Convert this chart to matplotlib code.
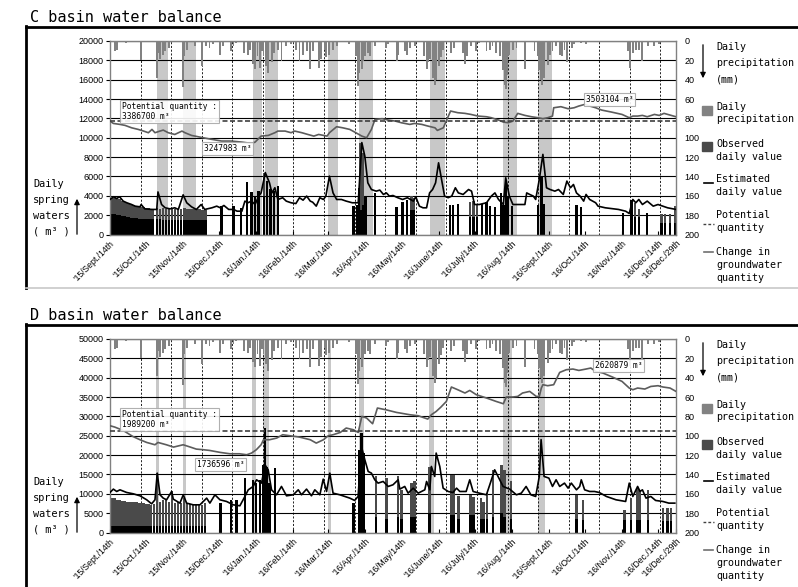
import numpy as np
import pandas as pd
import matplotlib
matplotlib.use('Agg')
import matplotlib.pyplot as plt
from matplotlib.lines import Line2D
from matplotlib.patches import Rectangle, FancyArrowPatch

# x axis: days since 2015-09-14
start = pd.Timestamp('2015-09-14')
n_days = 472
tick_dates = ['2015-09-14', '2015-10-14', '2015-11-14', '2015-12-14', '2016-01-14',
              '2016-02-14', '2016-03-14', '2016-04-14', '2016-05-14', '2016-06-14',
              '2016-07-14', '2016-08-14', '2016-09-14', '2016-10-14', '2016-11-14',
              '2016-12-14', '2016-12-29']
tick_labels = ["'15/Sept./14th", "'15/Oct./14th", "'15/Nov./14th", "'15/Dec./14th",
               "'16/Jan./14th", "'16/Feb./14th", "'16/Mar./14th", "'16/Apr./14th",
               "'16/May/14th", "'16/June/14th", "'16/July/14th", "'16/Aug./14th",
               "'16/Sept./14th", "'16/Oct./14th", "'16/Nov./14th", "'16/Dec./14th",
               "'16/Dec./29th"]
tick_days = (pd.to_datetime(tick_dates) - start).days

# daily precipitation (mm) - same gauge on both panels
rain_day = [4, 6, 13, 26, 39, 41, 42, 44, 46, 49,
            61, 62, 64, 71, 77, 80, 83, 86, 92, 94,
            101, 103, 105, 112, 115, 117, 119, 121, 123, 125,
            127, 128, 130, 132, 135, 137, 140, 143, 147, 151,
            155, 158, 161, 164, 167, 169, 174, 176, 179, 180,
            183, 186, 189, 199, 205, 207, 208, 210, 211, 213,
            215, 217, 221, 230, 232, 239, 240, 246, 248, 250,
            254, 262, 264, 265, 267, 269, 271, 272, 274, 276,
            278, 284, 287, 294, 296, 298, 301, 305, 308, 314,
            317, 319, 322, 325, 328, 329, 330, 331, 333, 336,
            339, 346, 354, 357, 358, 359, 360, 362, 365, 367,
            369, 372, 375, 377, 379, 381, 385, 387, 393, 397,
            432, 434, 436, 439, 441, 444, 449, 454, 458]
rain_mm = [10, 9, 2.5, 20, 38, 12, 19, 14, 10, 7,
           48, 16, 9, 5, 26, 5, 7, 3.5, 14, 5,
           10, 5, 2.5, 12, 14, 9, 24, 29, 16, 28,
           10, 16, 26, 33, 22, 12, 9, 21, 5, 3.5,
           9, 21, 14, 10, 29, 10, 28, 19, 9, 17,
           14, 9, 5, 3.5, 15.5, 46, 33, 29, 21, 15.5,
           12, 15.5, 5, 7, 3.5, 21, 14, 10, 14, 7,
           5, 15.5, 29, 22, 19, 38, 45, 40, 26, 17,
           9, 12, 7, 12, 24, 16, 5, 10, 2, 10,
           9, 5, 12, 15.5, 30, 45, 50, 35, 14, 9,
           7, 29, 10, 15.5, 30, 40, 45, 38, 25, 14,
           10, 5, 14, 15.5, 9, 22, 7, 3.5, 2, 3.5,
           10, 28, 12, 9, 9, 21, 5, 5, 3.5]

# ---------------- C basin ----------------
c_band_start = [39, 61, 119, 129, 181.5, 208, 266.5, 328, 357]
c_band_end = [48.5, 71.5, 127, 140, 190, 219.5, 279, 339.5, 368.5]
c_potential = 11700

c_est_day = [0, 3, 5.5, 8, 11, 14, 18, 21, 25, 26,
             29, 35, 39, 40, 43, 46, 50, 54, 57, 61,
             64, 68, 72, 76, 79, 85, 89, 92, 95, 99,
             103, 106, 110, 112.5, 115, 118, 121, 124, 126, 129.5,
             133, 135, 137.5, 140, 144, 147, 151, 155, 158, 161,
             164, 167, 169, 172, 175, 178, 180, 183, 186, 189,
             193, 197, 202, 207, 210, 212.5, 215, 218, 222, 225,
             228, 230.5, 233, 236, 240, 244, 248, 253, 255, 258,
             261, 264, 266.5, 269, 271.5, 274, 276, 279, 282, 285,
             288, 290.5, 294.5, 299, 301.5, 304, 308, 314, 318, 321,
             324, 328, 330, 333, 336, 340, 346, 347.5, 350, 353,
             355, 358, 361, 364, 367, 371, 374, 378, 381, 384,
             386.5, 389, 392, 395, 397, 400, 405, 407, 413, 424,
             430, 433, 436, 438.5, 441, 444, 448, 453, 457, 461,
             465, 472]
c_est = [3620, 3900, 3720, 3900, 3450, 3280, 3100, 2930, 2860, 3100,
         2650, 2590, 2590, 4400, 3100, 2760, 2650, 2760, 2590, 4100,
         3280, 2860, 2590, 3100, 2590, 2760, 2930, 2760, 3000, 2590,
         2590, 2410, 2410, 3450, 3280, 3450, 3100, 3970, 4300, 6400,
         5340, 4300, 4830, 3620, 3800, 3450, 3280, 3200, 3800, 3550,
         3970, 3450, 3340, 2930, 3800, 3620, 3970, 6030, 4300, 3620,
         3620, 3450, 3280, 3280, 9500, 8100, 5340, 4650, 4480, 4590,
         4140, 4300, 3970, 4030, 3800, 3620, 3800, 3450, 3900, 2930,
         2760, 2760, 4300, 4650, 5340, 7410, 6030, 3970, 3800, 3970,
         4830, 4300, 4140, 4650, 4480, 3100, 3100, 3280, 3970, 4300,
         3620, 3100, 5860, 3970, 3100, 3100, 3100, 4300, 4140, 3970,
         3620, 5690, 8280, 4830, 4650, 4480, 4650, 4140, 5520, 4830,
         5170, 4300, 3970, 3450, 4140, 3620, 3280, 2930, 2760, 2590,
         2410, 2170, 3620, 3280, 3620, 3100, 3450, 2930, 3100, 2930,
         2760, 2590]

c_gw_day = [0, 2.8, 8.3, 12.5, 18, 23.6, 28, 32, 35, 37.5,
            41.7, 44.4, 48.6, 54, 60, 62.5, 68, 73.6, 79, 85,
            93, 101, 110, 118, 121, 126, 132, 137.5, 140, 146,
            151, 154, 160, 165, 170, 174, 181, 183, 189, 194,
            200, 205, 210, 214, 218, 221, 227, 232, 238, 243,
            250, 254, 260, 265, 271, 273, 278, 280, 284, 290,
            296, 301, 307, 314, 318, 324, 328, 332, 336, 340,
            346, 351.5, 357, 361, 365, 369, 370, 376, 382, 387,
            391, 396, 400, 405, 410, 418, 427, 433, 436, 440,
            444, 448, 454, 458, 462, 468, 472]
c_gw = [11720, 11480, 11380, 11280, 11030, 10860, 10690, 10520, 10860, 10520,
        10690, 10790, 10520, 10340, 10690, 10520, 10240, 10100, 9970, 9830,
        9660, 9660, 9550, 9410, 9550, 10170, 10240, 10520, 10690, 10690,
        10520, 10690, 10520, 10340, 10170, 10340, 10170, 10520, 11140, 11030,
        10860, 10520, 10170, 10000, 10860, 11900, 11970, 11830, 11720, 11550,
        11380, 11480, 11380, 11210, 11030, 10760, 11030, 11620, 12760, 12590,
        12520, 12410, 12240, 12170, 12070, 11830, 11620, 11550, 11720, 12520,
        12310, 12170, 12070, 11970, 12070, 12240, 13100, 13210, 13000, 13100,
        13280, 13450, 13280, 13100, 12860, 12660, 12410, 12070, 12240, 12240,
        12310, 12170, 12410, 12310, 12520, 12310, 12170]

c_obs_day = [0, 2, 4, 6, 8, 10, 12, 14, 16, 18,
             20, 22, 24, 26, 28, 30, 32, 34, 36, 39,
             41.5, 44, 46.5, 49, 51.5, 54, 56.5, 59, 62, 64.5,
             67, 69.5, 72, 74.5, 77, 79.5, 93, 103, 109, 114,
             118, 121, 124, 128.5, 131, 134, 137, 140, 203, 206,
             207.5, 209, 211, 213, 221, 239, 244, 247.5, 251.5, 253.5,
             283.5, 286, 290, 300, 303, 306, 310, 314, 317, 321,
             326, 328, 330, 332, 335, 357, 360, 362, 389, 393,
             428, 435, 438, 441, 448, 460, 463, 467, 471]
c_obs = [3600, 3750, 3800, 3750, 3650, 3500, 3400, 3300, 3200, 3100,
         3000, 2950, 2900, 2850, 2800, 2750, 2700, 2650, 2650, 2700,
         2650, 2700, 2650, 2700, 2650, 2600, 2600, 2650, 2700, 2650,
         2600, 2600, 2600, 2600, 2550, 2550, 2900, 2900, 2700, 5400,
         4400, 4000, 4500, 6400, 5500, 4700, 4500, 5000, 2900, 3000,
         4800, 9500, 8400, 4000, 4300, 2800, 3400, 3600, 4000, 3800,
         3100, 3100, 3200, 3400, 3500, 3200, 3200, 3400, 2900, 2800,
         4300, 3100, 5300, 3900, 2900, 3100, 6000, 3200, 3100, 2800,
         2200, 3600, 3300, 2600, 2200, 2100, 2100, 2100, 2900]
c_obs_black = [2200, 2150, 2100, 2050, 2000, 1950, 1900, 1850, 1800, 1750,
               1700, 1700, 1650, 1650, 1600, 1600, 1600, 1600, 1600, 1600,
               1600, 1550, 1550, 1550, 1550, 1550, 1550, 1550, 1550, 1550,
               1550, 1550, 1550, 1550, 1550, 1550, 2900, 2900, 2700, 5400,
               4400, 4000, 4500, 4000, 5500, 4700, 4500, 5000, 2900, 3000,
               4800, 2500, 3000, 4000, 4300, 2800, 3400, 3600, 2500, 2500,
               3100, 3100, 3200, 1800, 1800, 1800, 3200, 3400, 2900, 2800,
               4300, 3100, 5300, 3900, 2900, 3100, 6000, 3200, 3100, 2800,
               2200, 3600, 1800, 1800, 2200, 1200, 1200, 1200, 1200]

# ---------------- D basin ----------------
d_band_start = [38.5, 61, 118, 127.5, 181.5, 208, 266, 327.5, 357]
d_band_end = [41, 63.5, 121.5, 132.5, 184, 211.5, 270, 335, 363]
d_potential = 26200

d_est_day = [0, 2.8, 5.6, 8.3, 13.9, 19.4, 25, 30.6, 34.7, 37.5,
             39.4, 41.7, 44.4, 47.2, 51.4, 52.8, 58.3, 61.1, 63.9, 69.4,
             75, 80.6, 83.3, 87.5, 91.7, 97.2, 102.8, 108.3, 112.5, 115.3,
             119.4, 122.2, 126.4, 129.2, 131.9, 134.7, 138.9, 143, 147.2, 152.8,
             157, 159.7, 163.9, 168, 170.8, 175, 177.8, 180.6, 183.3, 186,
             191.7, 200, 204, 206.9, 209.7, 212.5, 215.3, 218, 220.8, 223.6,
             227.8, 232, 236, 240.3, 241.7, 245.8, 248.6, 252.8, 257, 262.5,
             264, 266.7, 268, 270.8, 272, 275, 277.8, 282, 286, 289,
             291.7, 297, 300, 302.8, 308, 313.9, 316.7, 320.8, 323.6, 327.8,
             333.3, 338.9, 343, 347, 351, 355, 358, 359.5, 362, 366,
             369, 372, 375, 379, 382, 384.7, 389, 391.7, 393, 395.8,
             400, 404, 408, 414, 422, 430, 433, 436, 440, 442,
             444, 447, 451, 455, 461, 466, 471]
d_est = [10340, 11210, 10600, 11030, 10340, 10000, 9480, 8450, 7410, 8450,
         15340, 9740, 8880, 8450, 10600, 8620, 7590, 9740, 7590, 7150,
         7150, 8880, 7590, 9740, 8450, 8020, 7150, 6900, 9310, 11030,
         11900, 13620, 12760, 17500, 16200, 11030, 9740, 11900, 9480, 9740,
         11030, 9740, 11210, 9480, 11030, 9740, 13790, 10600, 15340, 10170,
         9740, 8880, 8280, 9310, 22240, 18790, 15770, 15340, 13620, 12760,
         13190, 11900, 12330, 13620, 11210, 11900, 10170, 11460, 10170, 11030,
         13190, 11030, 17070, 14480, 20520, 17070, 11460, 10600, 10340, 11460,
         10600, 10600, 13620, 10600, 10170, 9740, 12330, 16200, 14480, 11900,
         11210, 9740, 10170, 11900, 9740, 9310, 14480, 24000, 14480, 14050,
         11900, 13620, 11900, 12760, 11460, 12760, 11030, 11900, 13620, 11030,
         10600, 10600, 10340, 9310, 8450, 8020, 12760, 9310, 11900, 10600,
         11030, 8880, 9310, 8280, 8020, 7590, 7590]

d_gw_day = [0, 4, 11, 19, 25, 30.6, 37.5, 40, 47, 53,
            61, 67, 72, 78, 83, 92, 100, 108, 114, 118,
            122, 126, 128, 133, 139, 144, 150, 158, 167, 172,
            178, 182, 186, 192, 197, 203, 207, 210, 214, 219,
            223, 230, 239, 242, 250, 257, 265, 268, 272, 276,
            280.5, 284.7, 290, 296, 300, 305.5, 314, 322, 328, 330.5,
            336, 340, 344, 350, 355.5, 358, 359.7, 361, 365, 370,
            375, 380.5, 386, 391, 397, 401, 405, 411, 419, 427,
            433, 436, 440, 446, 451, 457, 461, 467, 472]
d_gw = [27590, 27240, 26370, 24820, 23970, 23270, 22670, 23270, 22670, 22070,
        22670, 22070, 21550, 21380, 21210, 20690, 20340, 20340, 20090, 20520,
        21380, 22670, 23970, 23970, 24400, 25260, 25000, 24660, 23970, 23100,
        23970, 25000, 25260, 25850, 26990, 26550, 25850, 29990, 29570, 28100,
        32160, 31720, 31020, 30870, 30430, 30170, 29310, 30430, 31280, 32420,
        33870, 37590, 36890, 36040, 36710, 35600, 34750, 33870, 33270, 35010,
        35010, 35160, 36040, 36460, 35160, 35160, 37330, 38190, 37930, 38190,
        41360, 42060, 42240, 41880, 42240, 42500, 41620, 41210, 40170, 39040,
        37330, 36890, 37330, 37070, 37740, 37930, 37600, 37330, 36460]

d_obs_day = [0, 2, 4, 6, 8, 10, 12, 14, 16, 18,
             20, 22, 24, 26, 28, 30, 32, 34, 36.5, 39,
             41.5, 44, 46.5, 49, 51.5, 54, 56.5, 59, 61.5, 64,
             66.5, 69, 71.5, 74, 76.5, 79, 92, 101, 105.5, 112.5,
             119.5, 122, 125, 128, 129.5, 131, 133, 137.5, 203, 208,
             209.7, 211.5, 222, 230.5, 240, 243, 251.5, 254, 266.5, 284.5,
             286.5, 290.5, 300.5, 303, 309.5, 311.5, 314.5, 319.5, 326.5, 329,
             334.5, 389, 394.5, 429, 434.5, 440, 442, 448.5, 461, 465,
             468]
d_obs = [8400, 8800, 8800, 8500, 8300, 8200, 8100, 8000, 8000, 7900,
         7850, 7800, 7700, 7600, 7550, 7450, 7400, 7000, 7400, 15300,
         8000, 8500, 8700, 8000, 10600, 7500, 7800, 7500, 9000, 7600,
         7300, 7400, 7200, 7000, 7200, 7500, 7600, 8450, 8400, 14000,
         13600, 12800, 13600, 17500, 27000, 17000, 12800, 16600, 7600, 21400,
         25800, 20500, 14500, 14000, 14500, 11000, 12800, 13200, 17000, 14900,
         14900, 9500, 9700, 9300, 8900, 8000, 10200, 16200, 17500, 16200,
         13200, 9700, 8450, 5900, 8900, 11500, 11000, 11000, 6300, 6300,
         6300]
d_obs_black = [1800, 1800, 1800, 1800, 1800, 1800, 1800, 1800, 1800, 1800,
               1800, 1800, 1750, 1750, 1750, 1750, 1750, 1750, 1750, 1750,
               1750, 1750, 1750, 1750, 1750, 1750, 1750, 1750, 1750, 1750,
               1750, 1750, 1750, 1750, 1750, 1750, 7600, 8450, 8400, 14000,
               13600, 12800, 13600, 17500, 27000, 17000, 12800, 16600, 7600, 21400,
               25800, 20500, 4000, 3500, 4000, 3500, 4000, 4000, 5000, 4500,
               4500, 3500, 4500, 4500, 3500, 3500, 3500, 4000, 5000, 4000,
               3500, 3500, 3300, 3300, 3300, 3300, 3300, 3300, 3000, 3000,
               3000]

# ---------------- drawing ----------------
W, H = 798, 587
fig = plt.figure(figsize=(W / 100, H / 100), dpi=100)
MONO = 'DejaVu Sans Mono'
SANS = 'Liberation Sans'
grid_step = 25.5  # dashed vertical grid spacing (days)


def fx(px):
    return px / W


def fy(py):
    return 1 - py / H


def fline(x0, y0, x1, y1, **kw):
    fig.add_artist(Line2D([fx(x0), fx(x1)], [fy(y0), fy(y1)],
                          transform=fig.transFigure, **kw))


def lines_text(px, py, rows, pitch, size=7.2):
    for i, r in enumerate(rows):
        fig.text(fx(px), fy(py + i * pitch), r, family=MONO, fontsize=size,
                 va='baseline', ha='left')


def arrow(x, y0, y1):
    fig.add_artist(FancyArrowPatch((fx(x), fy(y0)), (fx(x), fy(y1)),
                                   transform=fig.transFigure, arrowstyle='-|>',
                                   mutation_scale=8, lw=0.9, color='black'))


def box(px, py, txt):
    fig.text(fx(px), fy(py), txt, family=MONO, fontsize=5.7, va='top', ha='left',
             linespacing=1.15,
             bbox=dict(boxstyle='square,pad=0.25', fc='white', ec='#a8a8a8',
                       lw=0.8, alpha=0.9))


def panel(top, title, ymax, ystep, bs, be, obs_d, obs_v, obs_k,
          est_d, est_v, gw_d, gw_v, pot):
    # outer frame + title
    fline(26, top - 14, 798, top - 14, color='black', lw=2.0)
    fline(26, top - 15, 26, top + 247, color='black', lw=2.0)
    fig.text(fx(30), fy(top - 19), title, family=MONO, fontsize=11, va='baseline')

    ax = fig.add_axes([fx(110), fy(top + 193.5), 566 / W, 193.5 / H])
    ax.set_xlim(0, n_days)
    ax.set_ylim(0, ymax)
    for s, e in zip(bs, be):
        ax.axvspan(s, e, color='#c8c8c8', lw=0, zorder=0)
    ax.set_yticks(np.arange(0, ymax + 1, ystep))
    ax.yaxis.grid(True, color='black', lw=0.8)
    for g in np.arange(grid_step, n_days, grid_step):
        ax.axvline(g, color='black', lw=0.6, ls=(0, (2.5, 2)), zorder=1)

    ax.bar(obs_d, obs_v, width=2, color='#4a4a4a', lw=0, zorder=2)
    ax.bar(obs_d, obs_k, width=2, color='black', lw=0, zorder=2)
    ax.plot(gw_d, gw_v, color='#5c5c5c', lw=1.2, zorder=3)
    ax.axhline(pot, color='#404040', lw=1.2, ls=(0, (3, 1.5)), zorder=3)
    ax.plot(est_d, est_v, color='black', lw=1.2, zorder=4)

    ax.set_xticks(tick_days)
    ax.set_xticklabels(tick_labels, rotation=45, ha='right', va='top',
                       rotation_mode='anchor', fontsize=6.2, family=SANS)
    ax.tick_params(axis='x', direction='in', length=3, pad=3)
    ax.tick_params(axis='y', direction='out', length=3, pad=1.5, labelsize=6.5,
                   colors='black')
    for lab in ax.get_yticklabels():
        lab.set_family(SANS)
    for sp in ax.spines.values():
        sp.set_color('#808080')
        sp.set_linewidth(1.0)

    ax2 = ax.twinx()
    ax2.set_ylim(200, 0)
    ax2.set_yticks(np.arange(0, 201, 20))
    ax2.bar(rain_day, rain_mm, width=1.6, color='#828282', lw=0)
    ax2.tick_params(axis='y', length=0, pad=6, labelsize=6.5)
    for lab in ax2.get_yticklabels():
        lab.set_family(SANS)
    for sp in ax2.spines.values():
        sp.set_visible(False)

    t = top
    # left axis caption
    lines_text(33, t + 146, ['Daily', 'spring', 'waters', '( m³ )'], 16, 7.4)
    arrow(77, t + 196, t + 155)
    # right axis caption
    lines_text(716, t + 9, ['Daily', 'precipitation', '(mm)'], 16)
    arrow(703, t + 1, t + 40)
    # legend
    fig.add_artist(Rectangle((fx(702), fy(t + 74)), 10 / W, 9 / H,
                             transform=fig.transFigure, color='#828282'))
    lines_text(716, t + 69, ['Daily', 'precipitation'], 12)
    fig.add_artist(Rectangle((fx(702), fy(t + 110)), 10 / W, 9 / H,
                             transform=fig.transFigure, color='#4a4a4a'))
    lines_text(716, t + 106, ['Observed', 'daily value'], 12.5)
    fline(704, t + 142, 713, t + 142, color='black', lw=1.2)
    lines_text(716, t + 141, ['Estimated', 'daily value'], 13)
    fline(703, t + 183, 714, t + 183, color='#404040', lw=1.0, ls=(0, (2, 1.5)))
    lines_text(716, t + 177, ['Potential', 'quantity'], 13)
    fline(704, t + 211, 713, t + 211, color='#707070', lw=1.2)
    lines_text(716, t + 214, ['Change in', 'groundwater', 'quantity'], 13)
    return ax


panel(41, 'C basin water balance', 20000, 2000, c_band_start, c_band_end,
      c_obs_day, c_obs, c_obs_black, c_est_day, c_est, c_gw_day, c_gw, c_potential)
box(122, 102, 'Potential quantity :\n3386700 m³')
box(204, 144, '3247983 m³')
box(586, 95, '3503104 m³')

panel(339, 'D basin water balance', 50000, 5000, d_band_start, d_band_end,
      d_obs_day, d_obs, d_obs_black, d_est_day, d_est, d_gw_day, d_gw, d_potential)
box(122, 410, 'Potential quantity :\n1989200 m³')
box(197, 460, '1736596 m³')
box(595, 361, '2620879 m³')

fline(26, 288, 798, 288, color='#c8c8c8', lw=1.2)

fig.savefig('out.png', dpi=100)
